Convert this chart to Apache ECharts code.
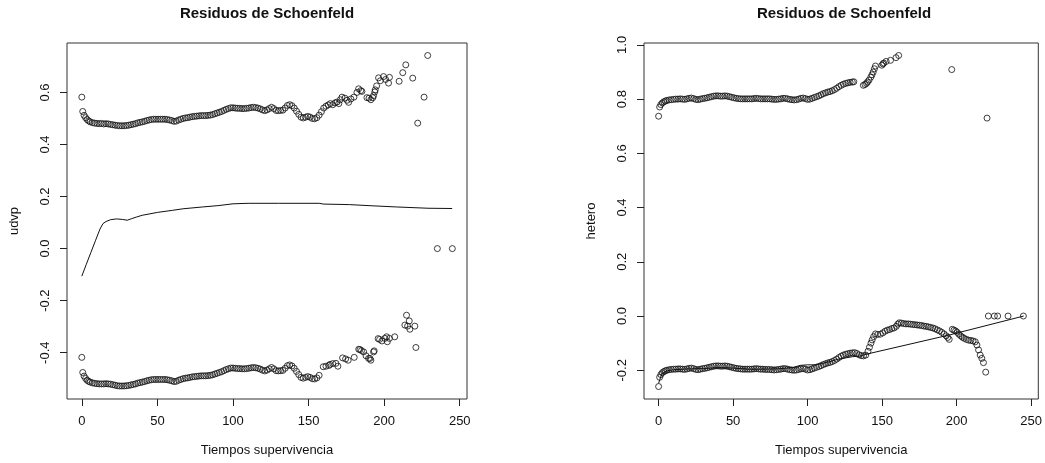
<!DOCTYPE html>
<html>
<head>
<meta charset="utf-8">
<script src="https://cdn.jsdelivr.net/npm/echarts@6/dist/echarts.min.js"></script>
<style>
html,body{margin:0;padding:0;background:#fff;}
#c{width:1045px;height:463px;}
</style>
</head>
<body>
<div id="c"></div>
<script>
// ---- tick labels ----
const xTicks = [0, 50, 100, 150, 200, 250];
const yTicksUdvp = [-0.4, -0.2, 0.0, 0.2, 0.4, 0.6];
const yTicksHetero = [-0.2, 0.0, 0.2, 0.4, 0.6, 0.8, 1.0];
const mainTitle = "Residuos de Schoenfeld";
const xName = "Tiempos supervivencia";
const yNameLeft = "udvp";
const yNameRight = "hetero";

// ---- left panel: udvp residuals [time, residual] ----
const udvpUpper = [
[0,0.582],[0.6,0.527],[1.5,0.512],[2.5,0.503],[3.5,0.496],[4.5,0.491],[5.5,0.487],[7,0.484],[8.5,0.482],[10,0.481],
[11.5,0.480],[13,0.481],[14.5,0.479],[16,0.480],[17.5,0.479],[19,0.477],[20.5,0.476],[22,0.474],[23.5,0.473],[25,0.472],
[26.5,0.472],[28,0.472],[29.5,0.473],[31,0.474],[32.5,0.476],[34,0.478],[35.5,0.480],[37,0.483],[38.5,0.485],[40,0.487],
[41.5,0.489],[43,0.492],[44.5,0.494],[46,0.496],[47.5,0.497],[49,0.497],[50.5,0.497],[52,0.497],[53.5,0.497],[55,0.497],
[56.5,0.496],[58,0.494],[59.5,0.492],[61,0.489],[62.5,0.490],[64,0.494],[65.5,0.497],[67,0.500],[68.5,0.502],[70,0.503],
[71.5,0.505],[73,0.507],[74.5,0.508],[76,0.509],[77.5,0.510],[79,0.511],[80.5,0.511],[82,0.511],[83.5,0.512],[85,0.513],
[86.5,0.515],[88,0.518],[89.5,0.521],[91,0.524],[92.5,0.527],[94,0.531],[95.5,0.535],[97,0.538],[98.5,0.541],[100,0.541],
[101.5,0.540],[103,0.539],[104.5,0.539],[106,0.538],[107.5,0.538],[109,0.539],[110.5,0.540],[112,0.542],[113.5,0.543],[115,0.542],
[116.5,0.540],[118,0.537],[119.5,0.533],[121,0.530],[122.5,0.533],[124,0.538],[125.5,0.543],[127,0.538],[128.5,0.531],[130,0.530],
[131.5,0.531],[133,0.532],[134.5,0.540],[136,0.550],[137.5,0.553],[139,0.549],[140.5,0.540],[142,0.528],[143.5,0.516],[145,0.505],
[146.5,0.502],[148,0.505],[149.5,0.508],[151,0.505],[152.5,0.500],[154,0.499],[155.5,0.503],[157,0.513],[158.5,0.526],[160,0.540],
[161.5,0.547],[163,0.552],[164.4,0.557],[166,0.553],[167.5,0.560],[168.8,0.563],[170,0.557],[171,0.572],[172.1,0.582],[174,0.578],
[175.5,0.570],[176.5,0.562],[178,0.575],[180,0.582],[182,0.600],[183.1,0.614],[184.5,0.607],[185.3,0.604],[188.6,0.580],[190,0.578],
[191.2,0.572],[192.5,0.580],[193,0.588],[193.8,0.602],[194.1,0.610],[195,0.625],[196.3,0.656],[197.5,0.645],[199.6,0.661],[201,0.650],
[202.9,0.636],[203.5,0.658],[209.9,0.643],[212.3,0.676],[214.3,0.706],[218.9,0.655],[222.2,0.482],[226.4,0.582],[228.8,0.742],
[235.2,0],[245.1,0]
];
const udvpLower = [
[0,-0.418],[0.6,-0.476],[1.5,-0.490],[2.5,-0.499],[3.5,-0.506],[4.5,-0.510],[5.5,-0.513],[7,-0.516],[8.5,-0.518],[10,-0.519],
[11.5,-0.520],[13,-0.520],[14.5,-0.520],[16,-0.519],[17.5,-0.520],[19,-0.521],[20.5,-0.523],[22,-0.525],[23.5,-0.527],[25,-0.528],
[26.5,-0.528],[28,-0.528],[29.5,-0.527],[31,-0.526],[32.5,-0.524],[34,-0.522],[35.5,-0.520],[37,-0.517],[38.5,-0.515],[40,-0.513],
[41.5,-0.511],[43,-0.508],[44.5,-0.506],[46,-0.504],[47.5,-0.503],[49,-0.503],[50.5,-0.503],[52,-0.503],[53.5,-0.503],[55,-0.503],
[56.5,-0.504],[58,-0.506],[59.5,-0.508],[61,-0.511],[62.5,-0.510],[64,-0.506],[65.5,-0.503],[67,-0.500],[68.5,-0.498],[70,-0.497],
[71.5,-0.495],[73,-0.493],[74.5,-0.492],[76,-0.491],[77.5,-0.490],[79,-0.489],[80.5,-0.489],[82,-0.489],[83.5,-0.488],[85,-0.487],
[86.5,-0.485],[88,-0.482],[89.5,-0.479],[91,-0.476],[92.5,-0.473],[94,-0.469],[95.5,-0.465],[97,-0.462],[98.5,-0.459],[100,-0.459],
[101.5,-0.460],[103,-0.461],[104.5,-0.461],[106,-0.462],[107.5,-0.462],[109,-0.461],[110.5,-0.460],[112,-0.458],[113.5,-0.457],[115,-0.458],
[116.5,-0.460],[118,-0.463],[119.5,-0.467],[121,-0.470],[122.5,-0.467],[124,-0.462],[125.5,-0.457],[127,-0.462],[128.5,-0.469],[130,-0.470],
[131.5,-0.469],[133,-0.468],[134.5,-0.460],[136,-0.450],[137.5,-0.447],[139,-0.451],[140.5,-0.460],[142,-0.472],[143.5,-0.484],[145,-0.495],
[146.5,-0.498],[148,-0.495],[149.5,-0.492],[151,-0.495],[152.5,-0.500],[154,-0.501],[155.5,-0.497],[157,-0.487],[159.7,-0.454],[161.5,-0.452],
[163.5,-0.449],[164.2,-0.445],[166,-0.442],[168.1,-0.441],[169.4,-0.452],[172.5,-0.420],[174.5,-0.424],[176.2,-0.429],[180.2,-0.418],[183.2,-0.387],
[184,-0.388],[185,-0.392],[186.4,-0.397],[188,-0.412],[189.7,-0.422],[190.6,-0.422],[191.2,-0.429],[193,-0.397],[193.4,-0.393],[196,-0.346],
[197,-0.349],[198.5,-0.355],[200.5,-0.345],[201.6,-0.339],[202.1,-0.358],[203.5,-0.345],[207,-0.339],[213.7,-0.294],[214.8,-0.256],[215.5,-0.298],
[216.6,-0.278],[217,-0.310],[220.3,-0.298],[221,-0.380]
];
const udvpLine = [
[0,-0.106],[3,-0.060],[6,-0.015],[9,0.030],[12,0.075],[14,0.096],[16,0.104],[19,0.111],[23,0.114],[27,0.112],
[30,0.109],[33,0.115],[36,0.121],[40,0.128],[50,0.139],[60,0.147],[67,0.153],[80,0.160],[90,0.165],[100,0.172],
[110,0.174],[130,0.174],[157,0.174],[160,0.171],[177,0.169],[190,0.165],[208,0.160],[229,0.155],[245,0.154]
];

// ---- right panel: hetero residuals [time, residual] ----
const heteroUpper = [
[0,0.737],[0.7,0.771],[1.5,0.780],[2.5,0.786],[3.5,0.790],[4.5,0.793],[5.5,0.795],[7,0.797],[8.5,0.798],[10,0.799],
[11.5,0.800],[13,0.800],[14.5,0.801],[16,0.800],[17.5,0.799],[19,0.801],[20.5,0.803],[22,0.804],[23.5,0.802],[25,0.799],
[26.5,0.798],[28,0.800],[29.5,0.802],[31,0.803],[32.5,0.805],[34,0.807],[35.5,0.809],[37,0.811],[38.5,0.812],[40,0.812],
[41.5,0.811],[43,0.811],[44.5,0.812],[46,0.811],[47.5,0.809],[49,0.807],[50.5,0.805],[52,0.803],[53.5,0.802],[55,0.801],
[56.5,0.801],[58,0.801],[59.5,0.801],[61,0.801],[62.5,0.801],[64,0.802],[65.5,0.803],[67,0.802],[68.5,0.801],[70,0.801],
[71.5,0.801],[73,0.801],[74.5,0.801],[76,0.800],[77.5,0.799],[79,0.799],[80.5,0.800],[82,0.801],[83.5,0.803],[85,0.803],
[86.5,0.801],[88,0.799],[89.5,0.798],[91,0.797],[92.5,0.798],[94,0.800],[95.5,0.803],[97,0.804],[98.5,0.802],[100,0.799],
[101.5,0.800],[103,0.803],[104.5,0.806],[106,0.809],[107.5,0.812],[109,0.816],[110.5,0.820],[112,0.823],[113.5,0.826],[115,0.828],
[116.5,0.831],[118,0.835],[119.5,0.840],[121,0.846],[122.5,0.851],[124,0.855],[125.5,0.858],[127,0.860],[128.5,0.862],[130,0.863],
[131,0.864],[137.4,0.851],[138.5,0.854],[139.5,0.858],[140.2,0.863],[141.2,0.870],[142.4,0.881],[143.2,0.890],[144,0.900],[144.8,0.912],
[145.5,0.922],[149.8,0.925],[150.6,0.930],[151.1,0.933],[152.7,0.939],[155.6,0.943],[159.3,0.953],[161.1,0.961],[196.7,0.909],[220.4,0.730]
];
const heteroLower = [
[0,-0.260],[0.7,-0.226],[1.5,-0.216],[2.5,-0.209],[3.5,-0.205],[4.5,-0.202],[5.5,-0.200],[7,-0.198],[8.5,-0.197],[10,-0.196],
[11.5,-0.196],[13,-0.195],[14.5,-0.195],[16,-0.196],[17.5,-0.197],[19,-0.195],[20.5,-0.193],[22,-0.192],[23.5,-0.194],[25,-0.197],
[26.5,-0.198],[28,-0.196],[29.5,-0.194],[31,-0.193],[32.5,-0.191],[34,-0.189],[35.5,-0.187],[37,-0.185],[38.5,-0.184],[40,-0.184],
[41.5,-0.185],[43,-0.185],[44.5,-0.184],[46,-0.185],[47.5,-0.187],[49,-0.189],[50.5,-0.191],[52,-0.193],[53.5,-0.194],[55,-0.195],
[56.5,-0.196],[58,-0.196],[59.5,-0.196],[61,-0.196],[62.5,-0.196],[64,-0.195],[65.5,-0.194],[67,-0.195],[68.5,-0.196],[70,-0.196],
[71.5,-0.197],[73,-0.197],[74.5,-0.197],[76,-0.198],[77.5,-0.199],[79,-0.198],[80.5,-0.197],[82,-0.196],[83.5,-0.194],[85,-0.194],
[86.5,-0.196],[88,-0.198],[89.5,-0.199],[91,-0.200],[92.5,-0.199],[94,-0.197],[95.5,-0.195],[97,-0.194],[98.5,-0.196],[100,-0.199],
[101.5,-0.198],[103,-0.195],[104.5,-0.192],[106,-0.189],[107.5,-0.186],[109,-0.183],[110.5,-0.179],[112,-0.176],[113.5,-0.173],[115,-0.171],
[116.5,-0.168],[118,-0.164],[119.5,-0.159],[121,-0.153],[122.5,-0.148],[124,-0.144],[125.5,-0.141],[127,-0.139],[128.5,-0.137],[130,-0.136],
[131.5,-0.135],[133,-0.138],[134.5,-0.143],[136,-0.146],[137.5,-0.147],[139,-0.144],[140.5,-0.130],[141.5,-0.115],[142.5,-0.100],[143.3,-0.088],
[144.3,-0.076],[145.5,-0.066],[147,-0.068],[148.8,-0.067],[150.5,-0.062],[152,-0.056],[153.5,-0.052],[155,-0.050],[156.5,-0.046],[158,-0.044],
[159.5,-0.038],[160.5,-0.030],[161.5,-0.025],[163,-0.026],[164.5,-0.028],[166,-0.029],[167.5,-0.029],[169,-0.030],[170.5,-0.031],[172,-0.032],
[173.5,-0.033],[175,-0.034],[176.5,-0.035],[178,-0.037],[179.5,-0.038],[181,-0.040],[182.5,-0.042],[184,-0.044],[185.5,-0.047],[187,-0.051],
[188.5,-0.055],[190,-0.060],[191.5,-0.066],[193,-0.073],[194,-0.079],[195,-0.086],[197.1,-0.049],[198.2,-0.052],[199.3,-0.055],[200.4,-0.060],
[201.5,-0.067],[202.7,-0.073],[203.8,-0.078],[205,-0.082],[206.5,-0.086],[208,-0.089],[209.5,-0.090],[211,-0.092],[212.5,-0.095],[213.6,-0.107],
[214.7,-0.125],[215.8,-0.144],[216.9,-0.156],[218,-0.172],[219.5,-0.207],[221.3,0],[225.3,0],[227.5,0],[234.5,0],[244.8,0]
];
const heteroLine = [
[0,-0.248],[2,-0.215],[5,-0.203],[10,-0.198],[20,-0.195],[30,-0.194],[40,-0.190],[50,-0.192],[60,-0.196],[70,-0.196],
[80,-0.195],[90,-0.190],[95,-0.182],[100,-0.180],[105,-0.180],[110,-0.175],[115,-0.168],[120,-0.160],[125,-0.155],[130,-0.150],
[135,-0.148],[140,-0.140],[195,-0.070],[245,0]
];

const FONT = "'Liberation Sans', Arial, sans-serif";
const TXT = '#111';

function xAxisCfg(gi) {
  return {
    type: 'value', gridIndex: gi, min: -9.8, max: 254.8, position: 'bottom',
    name: xName, nameLocation: 'middle', nameGap: 45,
    nameTextStyle: {fontFamily: FONT, fontSize: 13, color: TXT},
    axisLine: {show: false, onZero: false},
    axisTick: {show: true, length: 7, inside: false, customValues: xTicks, lineStyle: {color: '#222', width: 1}},
    axisLabel: {show: true, margin: 16, customValues: xTicks, fontFamily: FONT, fontSize: 13, color: TXT,
      formatter: v => String(Math.round(v))},
    splitLine: {show: false}
  };
}
function yAxisCfg(gi, min, max, ticks, nm) {
  return {
    type: 'value', gridIndex: gi, min: min, max: max, position: 'left',
    name: nm, nameLocation: 'middle', nameGap: 46, nameRotate: 90,
    nameTextStyle: {fontFamily: FONT, fontSize: 13, color: TXT},
    axisLine: {show: false, onZero: false},
    axisTick: {show: true, length: 7, inside: false, customValues: ticks, lineStyle: {color: '#222', width: 1}},
    axisLabel: {show: true, margin: 15, rotate: 90, customValues: ticks, fontFamily: FONT, fontSize: 13, color: TXT,
      formatter: v => v.toFixed(1)},
    splitLine: {show: false}
  };
}
function scatter(gi, data) {
  return {
    type: 'scatter', xAxisIndex: gi, yAxisIndex: gi, data: data,
    symbol: 'circle', symbolSize: 6,
    itemStyle: {color: 'rgba(0,0,0,0)', borderColor: '#111', borderWidth: 1},
    emphasis: {disabled: true}, silent: true
  };
}
function line(gi, data) {
  return {
    type: 'line', xAxisIndex: gi, yAxisIndex: gi, data: data,
    showSymbol: false, smooth: false,
    lineStyle: {color: '#111', width: 1}, silent: true
  };
}

const chart = echarts.init(document.getElementById('c'), null, {renderer: 'canvas'});
chart.setOption({
  animation: false,
  backgroundColor: '#fff',
  title: [
    {text: mainTitle, left: 267, top: 6, textAlign: 'center', padding: 0,
      textStyle: {fontFamily: FONT, fontSize: 15, fontWeight: 'bold', color: TXT}},
    {text: mainTitle, left: 844, top: 6, textAlign: 'center', padding: 0,
      textStyle: {fontFamily: FONT, fontSize: 15, fontWeight: 'bold', color: TXT}}
  ],
  grid: [
    {left: 67, top: 43, width: 400, height: 356, show: true, borderColor: '#333', borderWidth: 1, backgroundColor: 'transparent'},
    {left: 644, top: 43, width: 400, height: 356, show: true, borderColor: '#333', borderWidth: 1, backgroundColor: 'transparent'}
  ],
  xAxis: [xAxisCfg(0), xAxisCfg(1)],
  yAxis: [
    yAxisCfg(0, -0.578, 0.79, yTicksUdvp, yNameLeft),
    yAxisCfg(1, -0.306, 1.007, yTicksHetero, yNameRight)
  ],
  series: [
    scatter(0, udvpUpper), scatter(0, udvpLower), line(0, udvpLine),
    scatter(1, heteroUpper), scatter(1, heteroLower), line(1, heteroLine)
  ]
});
</script>
</body>
</html>
